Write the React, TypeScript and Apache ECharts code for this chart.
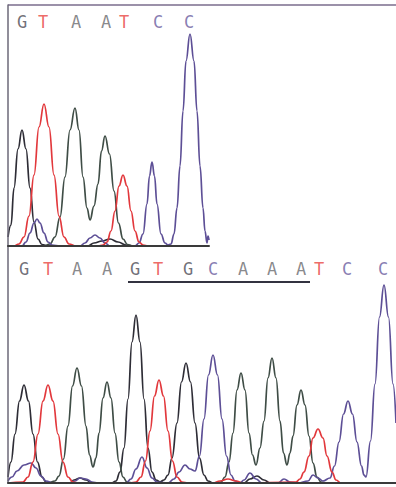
import React, { useEffect, useRef } from "react";
import * as echarts from "echarts";

// Top panel traces (x: scan position, y: signal)
const topG: number[][] = [[0,9],[3,21],[6,58],[10,97],[14,116],[18,97],[22,58],[26,24],[30,7],[34,1.5],[40,0],[80,0],[86,3],[94,5],[102,7],[110,4],[118,1],[125,0],[201,0]];
const topA: number[][] = [[0,0],[36,0],[42,2],[47,9],[52,29],[57,69],[62,116],[67,138],[71,116],[75,69],[79,38],[82,26],[86,40],[90,62],[93.5,95],[97,110],[101.5,92],[106,55],[110.5,23],[115,7],[119.5,1.5],[125,0],[201,0]];
const topC: number[][] = [[0,0],[14,0],[18,4],[22,13],[26,23],[29,27],[32,23],[36,13],[40,4],[44,1],[52,0],[72,0],[77,3],[82,8],[87,11],[92,8],[97,3],[102,0],[127,0],[131,3],[135,12],[139,42],[141.5,70],[144,84],[146.5,70],[149,42],[153,12],[157,3],[160,1],[163,2],[166,12],[169,38],[172,80],[175,135],[178,185],[182,212],[186,185],[189,135],[192,80],[195,38],[197,15],[199,3],[200,10],[201,6]];
const topT: number[][] = [[0,0],[6,0],[11,2],[16,9],[21,30],[26,71],[31,119],[36,142],[41,119],[46,71],[51,30],[56,9],[61,2],[68,0],[90,0],[95,1],[99,4],[103,15],[107,35],[111,60],[115,71],[119,60],[123,35],[127,15],[131,4],[135,1],[140,0],[201,0]];

// Bottom panel traces
const botG: number[][] = [[0,6],[3,21],[7,49],[11.5,82],[16,98],[20.5,82],[25,49],[29.5,21],[34,6],[38,1],[45,0],[62,0],[66,3],[72,5],[78,3],[84,0],[104,0],[108,2],[112,11],[116,35],[120,84],[124,141],[128,168],[132,141],[136,84],[140,35],[144,11],[148,3],[152,1],[156,3],[160,8],[164,25],[169,60],[173.5,101],[178,120],[182.5,101],[187,60],[191.5,25],[196,8],[200,2],[205,0],[236,0],[242,4],[249,7],[256,3],[262,0],[388,0]];
const botA: number[][] = [[0,0],[40,0],[47,2],[51,7],[55.5,24],[60,57],[64.5,97],[69,115],[73.5,97],[78,57],[81.5,28],[85,16],[88,25],[91,50],[95,85],[99,101],[103,85],[107,50],[111,21],[115,6],[119,1],[125,0],[208,0],[213,1],[217,6],[221,21],[225,50],[229,93],[233,110],[237,93],[241,50],[244.5,28],[248,18],[252,35],[256,62],[260,105],[264,125],[268,105],[272,62],[275.5,30],[279,18],[282,30],[285,47],[289,78],[293,93],[297,78],[301,47],[305,20],[309,6],[313,1],[318,0],[388,0]];
const botC: number[][] = [[0,2],[4,6],[9,12],[16,18],[23,20],[28,15],[33,7],[38,2],[45,0],[62,0],[67,2],[72,5],[78,4],[84,1],[90,0],[118,0],[123,4],[128,14],[134,26],[139,15],[144,5],[149,1],[160,0],[166,4],[171,11],[177,18],[182,14],[187,12],[191.5,27],[196,64],[200.5,108],[205,128],[209.5,108],[214,64],[218.5,27],[223,8],[227,2],[232,0],[236,3],[242,10],[248,4],[254,0],[270,0],[276,4],[282,1],[290,0],[300,2],[305,8],[310,5],[315,2],[322,5],[326.5,17],[331,41],[335.5,69],[340,82],[344.5,69],[349,41],[353.5,17],[356,8],[358,6],[362.5,42],[367,99],[371.5,166],[376,198],[380.5,166],[385,99],[388,60]];
const botT: number[][] = [[0,0],[15,1],[20,6],[25,21],[30,49],[35,82],[40,98],[45,82],[50,49],[55,21],[60,6],[65,1],[70,0],[122,0],[128,1],[133,6],[137.5,22],[142,52],[146.5,87],[151,103],[155.5,87],[160,52],[164.5,22],[169,6],[174,1],[180,0],[205,0],[212,2],[220,4],[228,2],[235,0],[288,1],[292,4],[296,11],[301,27],[305,45],[310,54],[315,45],[319,27],[324,11],[328,3],[333,0],[388,0]];

// Base calls
const topBases = ["G", "T", "A", "A", "T", "C", "C"];
const topBasePos = [14, 35, 68, 98, 116, 150, 181];
const botBases = ["G", "T", "A", "A", "G", "T", "G", "C", "A", "A", "A", "T", "C", "C"];
const botBasePos = [16, 40, 69, 99, 127, 150, 180, 205, 235, 264, 293, 311, 339, 375];
const topLabelLevel = 224;
const botLabelLevel = 214;
const underlineRange = [120, 302];
const underlineLevel = 201;

const traceColor: Record<string, string> = { G: "#2e2d36", A: "#3f4d46", C: "#5d4f96", T: "#e2383c" };
const letterColor: Record<string, string> = { G: "#4d4b55", A: "#6a6a6e", C: "#6a5c9e", T: "#e8453f" };

export default function App() {
  const ref = useRef<HTMLDivElement>(null);
  useEffect(() => {
    if (!ref.current) return;
    const chart = echarts.init(ref.current, null, { renderer: "svg" });
    const trace = (data: number[][], base: string, idx: number) => ({
      type: "line",
      xAxisIndex: idx,
      yAxisIndex: idx,
      data,
      smooth: 0.45,
      smoothMonotone: "x",
      symbol: "none",
      silent: true,
      lineStyle: { color: traceColor[base], width: 1.7 },
    });
    const labels = (bases: string[], pos: number[], level: number, idx: number) => ({
      type: "scatter",
      xAxisIndex: idx,
      yAxisIndex: idx,
      symbolSize: 1,
      itemStyle: { color: "rgba(0,0,0,0)" },
      silent: true,
      data: bases.map((b, i) => ({
        name: b,
        value: [pos[i], level],
        label: {
          show: true,
          position: "inside",
          formatter: b,
          color: letterColor[b],
          fontFamily: "DejaVu Sans Mono",
          fontSize: 17,
        },
      })),
    });
    const axisX = (idx: number, max: number) => ({
      type: "value",
      gridIndex: idx,
      min: 0,
      max,
      z: 10,
      axisLine: { show: true, onZero: false, lineStyle: { color: "#3a3a3a", width: 2 } },
      axisTick: { show: false },
      axisLabel: { show: false },
      splitLine: { show: false },
    });
    const axisY = (idx: number, max: number) => ({
      type: "value",
      gridIndex: idx,
      min: 0,
      max,
      z: 10,
      axisLine: { show: true, lineStyle: { color: "#6c6878", width: 1.5 } },
      axisTick: { show: false },
      axisLabel: { show: false },
      splitLine: { show: false },
    });
    chart.setOption({
      animation: false,
      backgroundColor: "#ffffff",
      grid: [
        { left: 8, top: 5, width: 201, height: 241 },
        { left: 8, top: 246, right: 0, height: 237 },
      ],
      xAxis: [axisX(0, 201), axisX(1, 388)],
      yAxis: [axisY(0, 241), axisY(1, 237)],
      graphic: [
        {
          type: "line",
          shape: { x1: 8, y1: 5, x2: 396, y2: 5 },
          style: { stroke: "#7a6c8c", lineWidth: 1.5 },
        },
      ],
      series: [
        trace(topG, "G", 0),
        trace(topA, "A", 0),
        trace(topC, "C", 0),
        trace(topT, "T", 0),
        trace(botG, "G", 1),
        trace(botA, "A", 1),
        trace(botC, "C", 1),
        trace(botT, "T", 1),
        labels(topBases, topBasePos, topLabelLevel, 0),
        labels(botBases, botBasePos, botLabelLevel, 1),
        {
          type: "line",
          xAxisIndex: 1,
          yAxisIndex: 1,
          symbol: "none",
          silent: true,
          data: [[underlineRange[0], underlineLevel], [underlineRange[1], underlineLevel]],
          lineStyle: { color: "#333340", width: 2 },
        },
      ],
    });
    return () => chart.dispose();
  }, []);
  return <div ref={ref} style={{ position: "fixed", left: 0, top: 0, width: 396, height: 487 }} />;
}
